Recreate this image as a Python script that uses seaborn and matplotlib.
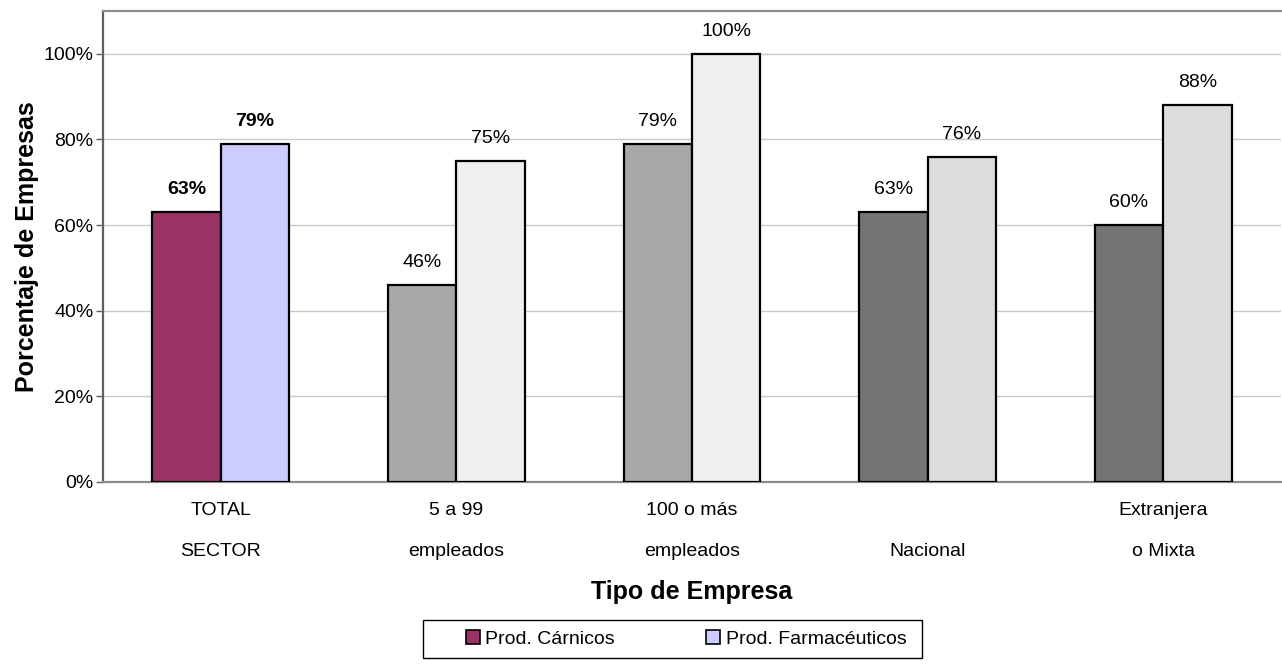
import numpy as np
import pandas as pd
import seaborn as sns
import matplotlib.pyplot as plt
from matplotlib.patches import Patch, Rectangle
from matplotlib.ticker import FuncFormatter

# Data
categories = ["TOTAL\nSECTOR", "5 a 99\nempleados", "100 o más\nempleados",
              "\nNacional", "Extranjera\no Mixta"]
series = ["Prod. Cárnicos", "Prod. Farmacéuticos"]
carnicos = [63, 46, 79, 63, 60]
farmaceuticos = [79, 75, 100, 76, 88]
yticks = [0, 20, 40, 60, 80, 100]

df = pd.DataFrame({
    "tipo": categories * 2,
    "valor": carnicos + farmaceuticos,
    "serie": [series[0]] * len(categories) + [series[1]] * len(categories),
})

sns.set_style("white")
plt.rcParams["font.family"] = ["Liberation Sans", "DejaVu Sans"]
plt.rcParams["text.color"] = "black"
plt.rcParams["axes.labelcolor"] = "black"
plt.rcParams["xtick.color"] = "black"
plt.rcParams["ytick.color"] = "black"

W, H = 1282, 664
fig = plt.figure(figsize=(W / 100, H / 100), dpi=100)
ax = fig.add_axes([103 / W, 1 - 482 / H, 1178 / W, 471 / H])

sns.barplot(data=df, x="tipo", y="valor", hue="serie", hue_order=series,
            order=categories, width=0.58, gap=0, saturation=1,
            edgecolor="black", linewidth=1.6, legend=False, ax=ax)

# Fill colours: the sector total in colour, breakdowns in greys
fills = [
    ["#993366", "#A9A9A9", "#A9A9A9", "#747474", "#747474"],
    ["#CCCCFF", "#EFEFEF", "#EFEFEF", "#DCDCDC", "#DCDCDC"],
]
for ci, cont in enumerate(ax.containers):
    for bi, bar in enumerate(cont):
        bar.set_facecolor(fills[ci][bi])
        bar.set_zorder(3)
    vals = carnicos if ci == 0 else farmaceuticos
    texts = ax.bar_label(cont, labels=[f"{v}%" for v in vals],
                         padding=10, fontsize=14, color="black")
    texts[0].set_fontweight("bold")

ax.set_ylim(0, 110)
ax.set_yticks(yticks)
ax.yaxis.set_major_formatter(FuncFormatter(lambda v, p: f"{v:.0f}%"))
ax.grid(axis="y", color="#C8C8C8", linewidth=1)
ax.set_axisbelow(True)
ax.set_xlim(-0.5, len(categories) - 0.5)

for side in ["left", "top", "bottom"]:
    ax.spines[side].set_visible(True)
    ax.spines[side].set_linewidth(1.6)
ax.spines["left"].set_color("#606060")
ax.spines["top"].set_color("#8C8C8C")
ax.spines["bottom"].set_color("#8C8C8C")
ax.spines["right"].set_visible(False)

ax.tick_params(axis="y", left=True, length=5, width=1, color="#606060",
               labelsize=14, pad=2)
ax.tick_params(axis="x", bottom=False, labelsize=14, pad=11)
for lbl in ax.get_xticklabels():
    lbl.set_linespacing(2.85)
    lbl.set_verticalalignment("top")

ax.set_xlabel("Tipo de Empresa", fontsize=18, fontweight="bold", labelpad=14)
ax.set_ylabel("Porcentaje de Empresas", fontsize=18, fontweight="bold", labelpad=3)

# Legend below the chart, with its own box
handles = [Patch(facecolor="#993366", edgecolor="black", linewidth=1.2),
           Patch(facecolor="#CCCCFF", edgecolor="black", linewidth=1.2)]
leg = fig.legend(handles, series, loc="center",
                 bbox_to_anchor=(686 / W, 1 - 639 / H), ncol=2,
                 fontsize=14, frameon=False,
                 handlelength=0.72, handleheight=0.72,
                 handletextpad=0.28, columnspacing=4.7, borderpad=0,
                 borderaxespad=0)
fig.patches.append(Rectangle((423 / W, 1 - 658 / H), 499 / W, 38 / H,
                             transform=fig.transFigure, fill=False,
                             edgecolor="black", linewidth=1.0))

fig.savefig("out.png", dpi=100)
